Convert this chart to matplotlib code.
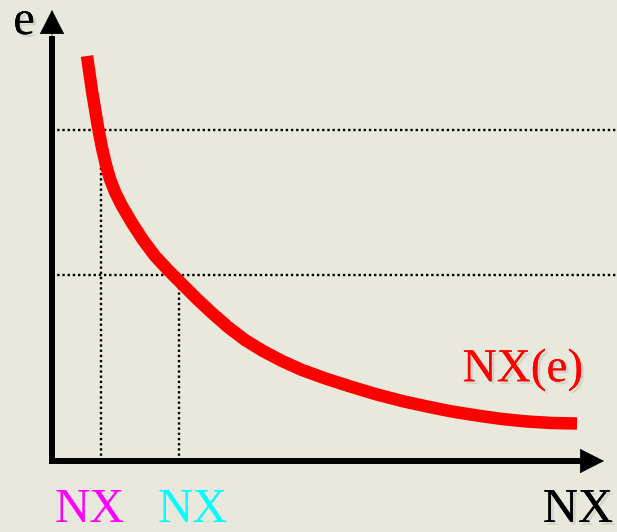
import matplotlib.pyplot as plt
import matplotlib.patheffects as pe

# curve NX(e), in chart units (origin at the axes corner)
nx_vals = [35, 40, 46, 50, 54, 58, 63, 70, 80, 91, 103, 116, 130, 145, 160, 176, 193, 211, 230, 250,
           275, 300, 325, 350, 375, 400, 425, 450, 475, 500, 525]
e_vals = [405, 370, 334, 313, 296, 282, 269, 255, 238, 221, 205, 191, 177, 162, 148, 134, 121, 110, 100, 91,
          82, 74, 66.5, 60, 54.5, 49.5, 45.5, 42, 39.5, 38, 37.5]

# the two reading levels
e_levels = [331, 186]
nx_levels = [49, 127]
level_colors = ['#FF00FF', '#00FFFF']
level_label_x = [38, 141]

bg = '#E8E8DC'
plt.rcParams['font.family'] = ['Liberation Serif', 'DejaVu Serif']

fig = plt.figure(figsize=(6.17, 5.32), dpi=100, facecolor=bg)
ax = fig.add_axes([0, 0, 1, 1])
ax.set_facecolor(bg)
ax.set_xlim(-52, 565)
ax.set_ylim(-71, 461)
ax.axis('off')

shadow = [pe.withSimplePatchShadow(offset=(2, -2), shadow_rgbFace='#999999', alpha=0.25), pe.Normal()]

# dotted guide lines
for e, nx in zip(e_levels, nx_levels):
    ax.plot([0, 565], [e, e], color='k', lw=1.7, ls=(0, (1, 1.2)), zorder=1)
    ax.plot([nx, nx], [0, e], color='k', lw=1.7, ls=(0, (1, 1.2)), zorder=1)

# curve
ax.plot(nx_vals, e_vals, color='#FF0000', lw=9, solid_capstyle='butt', solid_joinstyle='round', zorder=2)

# axes with arrows
ax.plot([0, 0], [-3, 425], color='k', lw=4.3, solid_capstyle='butt', zorder=3)
ax.plot([-3, 535], [0, 0], color='k', lw=4.3, solid_capstyle='butt', zorder=3)
ax.annotate('', xy=(0, 451), xytext=(0, 420),
            arrowprops=dict(arrowstyle='-|>,head_length=0.55,head_width=0.28', color='k', lw=0.5,
                            mutation_scale=30, shrinkA=0, shrinkB=0), zorder=3)
ax.annotate('', xy=(552, 0), xytext=(520, 0),
            arrowprops=dict(arrowstyle='-|>,head_length=0.55,head_width=0.28', color='k', lw=0.5,
                            mutation_scale=30, shrinkA=0, shrinkB=0), zorder=3)

# labels
ax.text(-28, 439, 'e', fontsize=35, ha='center', va='center', path_effects=shadow)
ax.text(526, -49, 'NX', fontsize=35, ha='center', va='center', path_effects=shadow)
ax.text(471, 91, 'NX(e)', fontsize=34, color='#FF0000', ha='center', va='center', path_effects=shadow)
for lx, c in zip(level_label_x, level_colors):
    ax.text(lx, -49, 'NX', fontsize=35, color=c, ha='center', va='center')

fig.savefig('out.png', dpi=100, facecolor=bg)
